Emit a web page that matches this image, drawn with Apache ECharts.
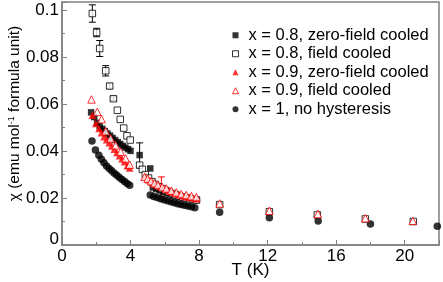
<!DOCTYPE html>
<html><head><meta charset="utf-8">
<script src="https://cdn.jsdelivr.net/npm/echarts@6/dist/echarts.min.js"></script>
<style>html,body{margin:0;padding:0;background:#fff}#c{width:443px;height:282px}</style>
</head><body><div id="c"></div>
<script>
// ---- data ----
const xTickLabels = [0, 4, 8, 12, 16, 20];
const yTickLabels = [0, 0.02, 0.04, 0.06, 0.08, 0.1];

const seriesNames = ['x = 0.8, zero-field cooled', 'x = 0.8, field cooled', 'x = 0.9, zero-field cooled', 'x = 0.9, field cooled', 'x = 1, no hysteresis'];

// x = 1, no hysteresis
const t10 = [1.75, 1.95, 2.15, 2.3, 2.45, 2.6, 2.75, 2.9, 3.05, 3.2, 3.35, 3.5, 3.65, 3.8, 3.95, 5.15, 5.35, 5.55, 5.75, 5.95, 6.15, 6.35, 6.55, 6.75, 6.95, 7.15, 7.35, 7.55, 7.75, 9.2, 12.1, 14.95, 18.0, 21.9];
const chi10 = [0.0443, 0.0405, 0.0382, 0.0365, 0.0350, 0.0337, 0.0326, 0.0316, 0.0306, 0.0297, 0.0288, 0.0279, 0.0270, 0.0262, 0.0254, 0.0213, 0.0207, 0.0202, 0.0197, 0.0193, 0.0188, 0.0184, 0.0180, 0.0176, 0.0172, 0.0169, 0.0166, 0.0163, 0.0159, 0.0139, 0.0116, 0.0102, 0.0089, 0.0080];

// x = 0.8, zero-field cooled
const t08z = [1.7, 1.88, 2.05, 2.2, 2.35, 2.5, 2.65, 2.8, 2.95, 3.1, 3.25, 3.4, 3.55, 3.7, 3.85, 4.0, 4.53, 5.15, 5.3, 5.5, 5.7, 5.9, 6.1, 6.3, 6.5, 6.7, 6.9, 7.1, 7.3, 7.5, 7.7, 7.85];
const chi08z = [0.0565, 0.0545, 0.0520, 0.0505, 0.0495, 0.0485, 0.0475, 0.0466, 0.0456, 0.0447, 0.0438, 0.0430, 0.0422, 0.0415, 0.0408, 0.0401, 0.0383, 0.0326, 0.0245, 0.0238, 0.0232, 0.0226, 0.0221, 0.0216, 0.0212, 0.0208, 0.0205, 0.0202, 0.0199, 0.0197, 0.0195, 0.0193];

// x = 0.8, field cooled
const t08f = [1.77, 2.02, 2.2, 2.55, 2.78, 3.0, 3.23, 3.4, 3.6, 3.79, 3.98, 4.53, 4.69, 4.86, 5.05, 5.25, 5.45, 5.65, 5.85, 6.05, 6.25, 6.45, 6.65, 6.85, 7.05, 7.25, 7.45, 7.65, 7.85, 9.2, 12.1, 14.9, 17.7, 20.5];
const chi08f = [0.0986, 0.0905, 0.0837, 0.0742, 0.0677, 0.0623, 0.0574, 0.0535, 0.0498, 0.0465, 0.0447, 0.0340, 0.0322, 0.0300, 0.0285, 0.0270, 0.0258, 0.0248, 0.0240, 0.0232, 0.0225, 0.0219, 0.0213, 0.0208, 0.0204, 0.0200, 0.0197, 0.0194, 0.0191, 0.0172, 0.0142, 0.0128, 0.0111, 0.0100];

// x = 0.9, zero-field cooled
const t09z = [1.77, 1.97, 2.16, 2.3, 2.45, 2.6, 2.75, 2.9, 3.05, 3.2, 3.35, 3.5, 3.65, 3.81, 3.95, 4.85, 5.05, 5.25, 5.45, 5.65, 5.8, 6.05, 6.25, 6.45, 6.65, 6.85, 7.05, 7.25, 7.45, 7.65, 7.85];
const chi09z = [0.0553, 0.0518, 0.0496, 0.0478, 0.0461, 0.0448, 0.0436, 0.0422, 0.0408, 0.0394, 0.0380, 0.0367, 0.0355, 0.0338, 0.0328, 0.0290, 0.0278, 0.0268, 0.0260, 0.0252, 0.0248, 0.0238, 0.0231, 0.0225, 0.0219, 0.0214, 0.0210, 0.0206, 0.0203, 0.0200, 0.0197];

// x = 0.9, field cooled
const t09f = [1.72, 2.06, 2.31, 2.55, 2.84, 3.13, 3.42, 3.71, 3.95, 4.82, 5.0, 5.2, 5.4, 5.6, 5.85, 6.09, 6.38, 6.67, 6.96, 7.25, 7.55, 7.84, 9.2, 12.1, 14.93, 17.7, 20.47];
const chi09f = [0.0620, 0.0567, 0.0536, 0.0485, 0.0454, 0.0425, 0.0397, 0.0369, 0.0342, 0.0290, 0.0282, 0.0272, 0.0263, 0.0256, 0.0247, 0.0241, 0.0231, 0.0224, 0.0217, 0.0213, 0.0208, 0.0204, 0.0177, 0.0146, 0.0132, 0.0114, 0.0103];

// error bars
const err08fT = [1.77, 2.02, 2.2, 2.55, 2.78, 3.0];
const err08fChi = [0.0986, 0.0905, 0.0837, 0.0742, 0.0677, 0.0623];
const err08fD = [0.0037, 0.0018, 0.0034, 0.0022, 0.0010, 0.0008];
const err08zT = [4.53];
const err08zChi = [0.0383];
const err08zD = [0.0052];
const err09zT = [5.8];
const err09zChi = [0.0248];
const err09zD = [0.0042];

// ---- build ----
const FONT = "'Liberation Sans', Arial, sans-serif";
const pairs = (a, b) => a.map((v, i) => [v, b[i]]);
const errs = (t, c, d) => t.map((v, i) => [v, c[i] - d[i], c[i] + d[i]]);

function renderErr(params, api) {
  const x = api.value(0), lo = api.value(1), hi = api.value(2);
  const p1 = api.coord([x, hi]), p2 = api.coord([x, lo]);
  const hw = 3.5;
  const style = { stroke: api.visual('color'), lineWidth: 1 };
  return { type: 'group', children: [
    { type: 'line', shape: { x1: p1[0], y1: p1[1], x2: p2[0], y2: p2[1] }, style },
    { type: 'line', shape: { x1: p1[0] - hw, y1: p1[1], x2: p1[0] + hw, y2: p1[1] }, style },
    { type: 'line', shape: { x1: p2[0] - hw, y1: p2[1], x2: p2[0] + hw, y2: p2[1] }, style }
  ]};
}

const RED = '#ff0000';
const styles = [
  { symbol: 'rect', size: 6.5, itemStyle: { color: '#000', borderColor: '#000', borderWidth: 0 } },
  { symbol: 'rect', size: 6.5, itemStyle: { color: '#fff', borderColor: '#000', borderWidth: 1 } },
  { symbol: 'triangle', size: 7.5, itemStyle: { color: RED, borderColor: RED, borderWidth: 0 } },
  { symbol: 'triangle', size: 7.5, itemStyle: { color: '#fff', borderColor: RED, borderWidth: 1 } },
  { symbol: 'circle', size: 7.5, itemStyle: { color: '#000', borderColor: '#000', borderWidth: 0 } }
];
const dataSets = [pairs(t08z, chi08z), pairs(t08f, chi08f), pairs(t09z, chi09z), pairs(t09f, chi09f), pairs(t10, chi10)];
const drawOrder = [4, 0, 1, 2, 3];

const series = [];
series.push({ type: 'custom', renderItem: renderErr, data: errs(err08fT, err08fChi, err08fD), itemStyle: { color: '#000' }, encode: { x: 0, y: [1, 2] }, z: 1, silent: true });
series.push({ type: 'custom', renderItem: renderErr, data: errs(err08zT, err08zChi, err08zD), itemStyle: { color: '#000' }, encode: { x: 0, y: [1, 2] }, z: 1, silent: true });
series.push({ type: 'custom', renderItem: renderErr, data: errs(err09zT, err09zChi, err09zD), itemStyle: { color: RED }, encode: { x: 0, y: [1, 2] }, z: 1, silent: true });
drawOrder.forEach(i => {
  series.push({ type: 'scatter', name: seriesNames[i], data: dataSets[i], symbol: styles[i].symbol, symbolSize: styles[i].size, itemStyle: styles[i].itemStyle, z: 2 });
});

const axisColor = '#808080';
const chart = echarts.init(document.getElementById('c'), null, { renderer: 'canvas' });
chart.setOption({
  animation: false,
  backgroundColor: '#fff',
  textStyle: { fontFamily: FONT },
  grid: { left: 62, right: 4, top: 2, bottom: 37, containLabel: false, outerBoundsMode: 'none', show: true, borderColor: axisColor, borderWidth: 1.5, backgroundColor: 'transparent' },
  legend: {
    orient: 'vertical', left: 227, top: 21, itemGap: 0, itemWidth: 6, itemHeight: 6,
    textStyle: { fontFamily: FONT, fontSize: 16.5, color: '#000', lineHeight: 18.5, padding: [0, 0, 0, 5] },
    data: seriesNames.map((n, i) => ({ name: n, icon: styles[i].symbol, itemStyle: styles[i].itemStyle }))
  },
  xAxis: {
    type: 'value', min: 0, max: 22, interval: xTickLabels[1] - xTickLabels[0],
    name: 'T (K)', nameLocation: 'middle', nameGap: 17, nameMoveOverlap: false,
    nameTextStyle: { fontFamily: FONT, fontSize: 17, color: '#000' },
    axisLine: { lineStyle: { color: axisColor, width: 1.5 } },
    axisTick: { inside: true, length: 5, lineStyle: { color: axisColor } },
    minorTick: { show: true, splitNumber: 2, length: 3, lineStyle: { color: axisColor } },
    splitLine: { show: false },
    axisLabel: { fontFamily: FONT, fontSize: 17, color: '#000', margin: 3, formatter: v => xTickLabels.includes(v) ? String(v) : '' }
  },
  yAxis: {
    type: 'value', min: 0, max: 0.1035, interval: yTickLabels[1] - yTickLabels[0],
    name: '\u03c7 (emu mol{sup|-1} formula unit)', nameLocation: 'middle', nameGap: 39, nameMoveOverlap: false,
    nameTextStyle: { fontFamily: FONT, fontSize: 15.5, color: '#000', padding: [0, 0, 0, 20],
      rich: { sup: { fontFamily: FONT, fontSize: 9, color: '#000', verticalAlign: 'top', lineHeight: 9, padding: [0, 0, 6, 0] } } },
    axisLine: { lineStyle: { color: axisColor, width: 1.5 } },
    axisTick: { inside: true, length: 5, lineStyle: { color: axisColor } },
    minorTick: { show: true, splitNumber: 2, length: 3, lineStyle: { color: axisColor } },
    splitLine: { show: false },
    axisLabel: { fontFamily: FONT, fontSize: 17, color: '#000', margin: 3,
      rich: { z: { fontFamily: FONT, fontSize: 17, color: '#000', padding: [0, 0, 12, 0] } },
      formatter: v => { const r = Math.round(v * 1000) / 1000; if (r === 0) return '{z|0}'; return yTickLabels.some(t => Math.abs(t - r) < 1e-9) ? String(r) : ''; } }
  },
  series
});
</script></body></html>
